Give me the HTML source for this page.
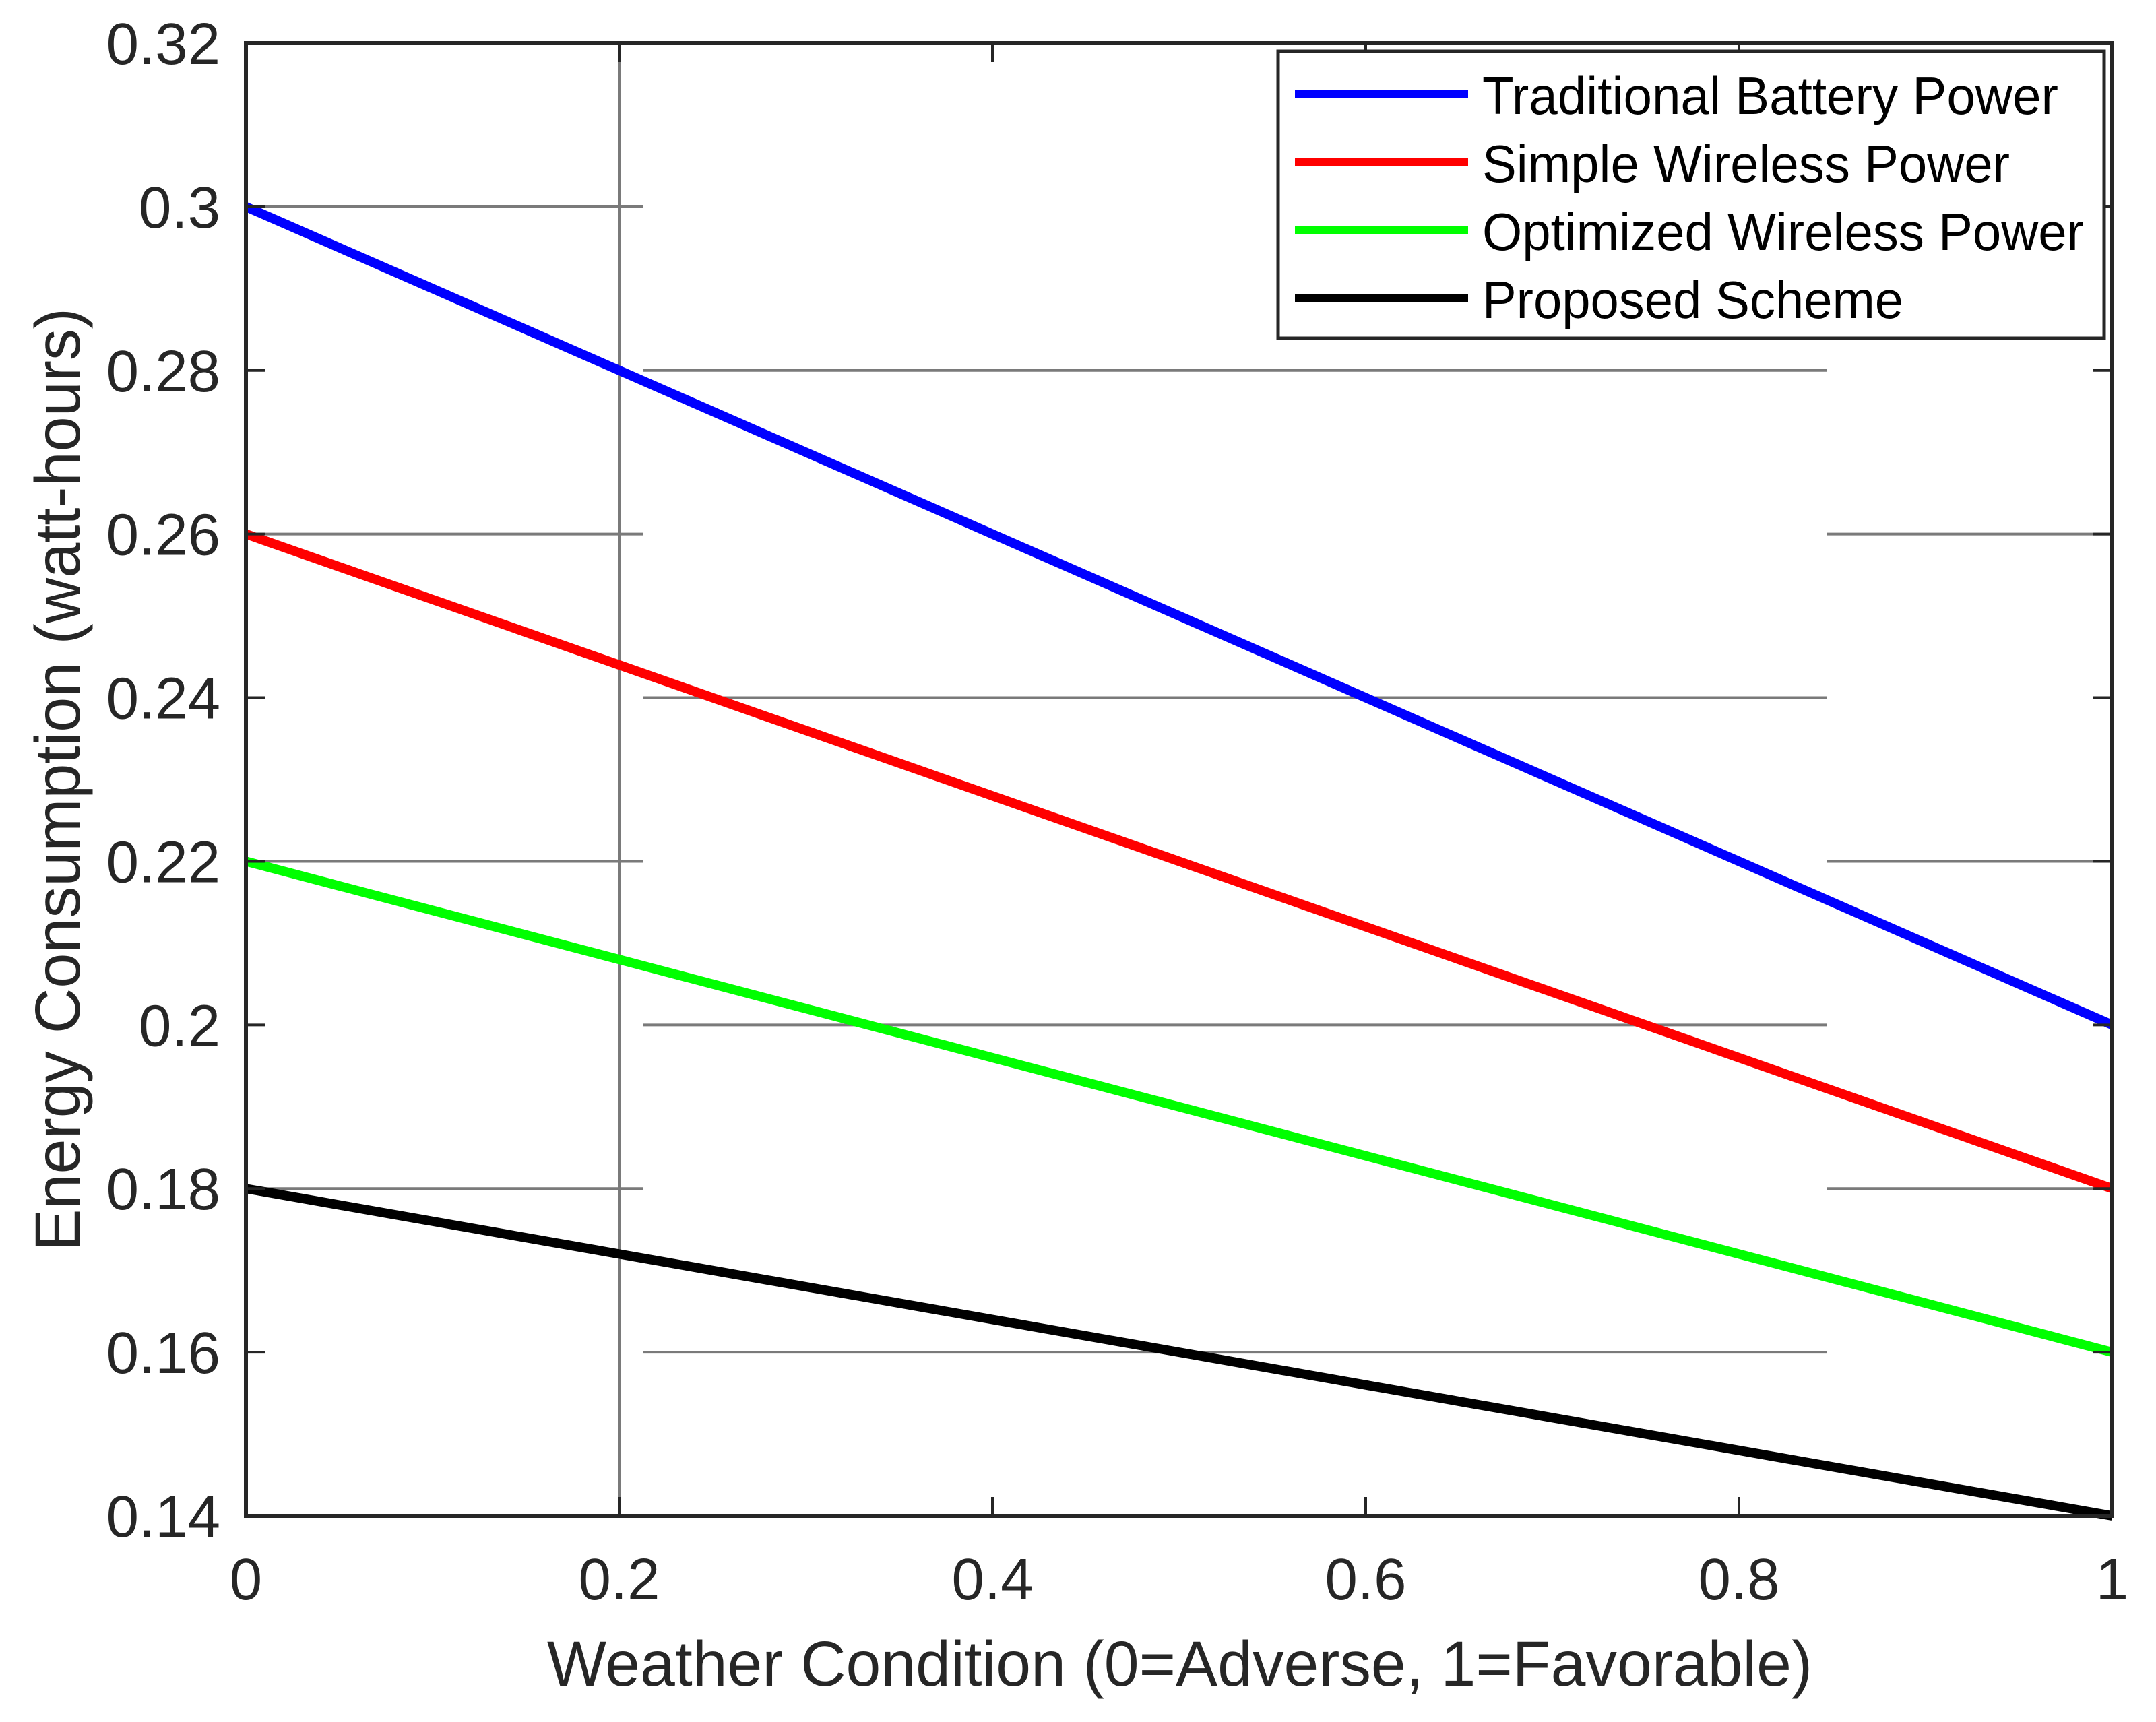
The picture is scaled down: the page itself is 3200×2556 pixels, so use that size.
<!DOCTYPE html>
<html><head><meta charset="utf-8"><style>
html,body{margin:0;padding:0;background:#fff;}
svg{display:block;font-family:"Liberation Sans",Arial,sans-serif;}
</style></head><body>
<svg id="chart" width="3200" height="2556" viewBox="0 0 3200 2556" xmlns="http://www.w3.org/2000/svg">
<rect width="3200" height="2556" fill="#fff"/>
<g id="grid"></g>
<g id="series"></g>
<g id="axes"></g>
<text x="1751" y="2502" font-size="95" text-anchor="middle" fill="#262626" textLength="1878" lengthAdjust="spacingAndGlyphs">Weather Condition (0=Adverse, 1=Favorable)</text>
<text transform="translate(118,1157) rotate(-90)" font-size="95" text-anchor="middle" fill="#262626" textLength="1400" lengthAdjust="spacingAndGlyphs">Energy Consumption (watt-hours)</text>
<g id="legend"></g>
</svg>
<script>
const xValues = [0, 1];
const seriesNames = ["Traditional Battery Power","Simple Wireless Power","Optimized Wireless Power","Proposed Scheme"];
const seriesColors = ["#0000ff","#ff0000","#00ff00","#000000"];
const traditional = [0.30, 0.20];
const simple = [0.26, 0.18];
const optimized = [0.22, 0.16];
const proposed = [0.18, 0.14];
const xTicks = [0, 0.2, 0.4, 0.6, 0.8, 1];
const xTickLabels = ["0","0.2","0.4","0.6","0.8","1"];
const yTicks = [0.14,0.16,0.18,0.2,0.22,0.24,0.26,0.28,0.3,0.32];
const yTickLabels = ["0.14","0.16","0.18","0.2","0.22","0.24","0.26","0.28","0.3","0.32"];
const legendWidths = [855, 783, 893, 625];

const L=365,R=3135,T=64,B=2250;
const xs=v=>L+(v-0)/(1-0)*(R-L);
const ys=v=>B-(v-0.14)/(0.32-0.14)*(B-T);
const NS="http://www.w3.org/2000/svg";
function mk(tag,attrs,parent){const e=document.createElementNS(NS,tag);for(const k in attrs)e.setAttribute(k,attrs[k]);parent.appendChild(e);return e;}
const grid=document.getElementById('grid'),ser=document.getElementById('series'),axes=document.getElementById('axes'),leg=document.getElementById('legend');

yTicks.forEach((v,i)=>{
  if(i===0||i===yTicks.length-1)return;
  const segs = (i%2===0)?[[0,0.213],[0.847,1]]:[[0.213,0.847]];
  segs.forEach(s=>{
    const g=mk('line',{x1:xs(s[0]),x2:xs(s[1]),y1:ys(v),y2:ys(v),stroke:'#7a7a7a','stroke-width':4},grid);
    
    
  });
});
const vg=mk('line',{x1:xs(0.2),x2:xs(0.2),y1:T,y2:B,stroke:'#7a7a7a','stroke-width':4},grid);



[traditional,simple,optimized,proposed].forEach((arr,si)=>{
  const pts=arr.map((v,i)=>xs(xValues[i])+','+ys(v)).join(' ');
  const p=mk('polyline',{points:pts,fill:'none',stroke:seriesColors[si],'stroke-width':14},ser);
  
  
});

const box=mk('rect',{x:L,y:T,width:R-L,height:B-T,fill:'none',stroke:'#262626','stroke-width':6},axes);


xTicks.forEach((v,i)=>{
  mk('line',{x1:xs(v),x2:xs(v),y1:B,y2:B-28,stroke:'#262626','stroke-width':4},axes);
  mk('line',{x1:xs(v),x2:xs(v),y1:T,y2:T+28,stroke:'#262626','stroke-width':4},axes);
  const t=mk('text',{x:xs(v),y:2374,'font-size':87,'text-anchor':'middle',fill:'#262626'},axes);
  t.textContent=xTickLabels[i];
  
  
});
yTicks.forEach((v,i)=>{
  mk('line',{x1:L,x2:L+28,y1:ys(v),y2:ys(v),stroke:'#262626','stroke-width':4},axes);
  mk('line',{x1:R,x2:R-28,y1:ys(v),y2:ys(v),stroke:'#262626','stroke-width':4},axes);
  const t=mk('text',{x:327,y:ys(v)+31,'font-size':87,'text-anchor':'end',fill:'#262626'},axes);
  t.textContent=yTickLabels[i];
  
  
});

const lb=mk('rect',{x:1897,y:76,width:1226,height:426,fill:'#fff',stroke:'#262626','stroke-width':5},leg);


seriesNames.forEach((n,i)=>{
  const y=140+i*101;
  const l=mk('line',{x1:1922,x2:2179,y1:y,y2:y,stroke:seriesColors[i],'stroke-width':12},leg);
  
  
  const t=mk('text',{x:2200,y:y+29,'font-size':78,fill:'#000',textLength:legendWidths[i],lengthAdjust:'spacingAndGlyphs'},leg);
  t.textContent=n;
  
  
});
</script>
</body></html>
